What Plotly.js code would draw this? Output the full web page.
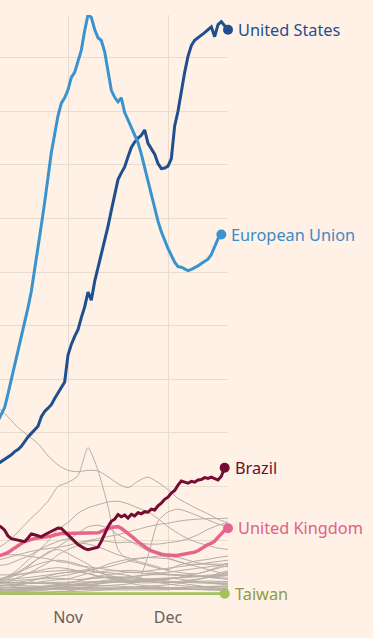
<!DOCTYPE html>
<html><head><meta charset="utf-8">
<script src="https://cdn.plot.ly/plotly-3.0.1.min.js"></script>
<style>html,body{margin:0;padding:0;background:#fff1e5;}#chart{width:373px;height:638px;}</style>
</head><body><div id="chart"></div>
<script>
// 7-day average of new cases, thousands
const dailyStart = '2020-10-11';   // daily series start
const grayStart = '2020-10-11';    // gray series: every 3 days
const grayStep = 3;
const tickVals = ['2020-11-01', '2020-12-01'];
const tickText = ['Nov', 'Dec'];

const usValues = [48.5,49.3,50.0,50.7,51.8,53.0,53.8,55.0,57.0,58.5,
59.8,61.0,62.5,66.0,68.0,69.2,70.5,72.8,74.8,77.0,
79.0,89.0,93.0,96.0,98.5,103,107,112.5,109.5,116.5,
121.5,126.5,131.5,137,143,149,154.5,157,159.2,163,
166.5,168.5,170,171,173,168,166,164,160.5,158.6,
158.8,159.5,162.3,174.5,180,187.5,194.5,200.5,204.5,206.5,
207.6,208.4,209.3,210.5,211.5,207.8,212.3,213.4,212,210.4];

const euValues = [64.5,67,69.5,74.5,79.8,85,90,95,100.5,106.7,
112.8,120.6,129,137.5,146,156,164.6,171.4,178.3,183,
185,188,192.6,194.5,198.5,202.8,210,216,215,210.5,
207.4,206.4,202.2,195.5,187.8,185.2,183.5,185,179.5,176.8,
174,171.4,168.3,164,159,154,148.5,143.5,139,135,
131.5,128.8,126.2,123.7,122,121.8,121.2,120.5,121,121.6,
122.3,123.2,124,124.8,126.5,129.5,132.4,134];

const brazilValues = [25.5,24.8,23.7,21.5,20.5,20.2,19.9,19.6,19.4,20.8,
22.3,22.0,21.5,21.2,22.0,22.7,23.3,24.0,24.5,24.3,
23.0,22.0,20.8,19.5,18.3,17.5,16.8,16.4,16.7,17.0,
17.3,19.5,22.5,25.0,27.0,27.8,29.5,28.7,29.3,28.2,
29.6,29.0,30.2,29.8,30.6,30.4,31.5,31.2,32.8,33.8,
35.2,36.0,37.5,38.5,40.5,42.0,41.6,41.2,41.9,41.6,
42.4,42.6,43.3,43.0,43.5,42.8,42.4,43.8,47.0];

const ukValues = [14.0,14.3,14.8,15.4,16.2,17.2,18.0,18.8,19.5,19.8,
20.3,20.6,20.8,20.9,21.1,21.3,21.5,21.9,22.3,22.4,
22.4,22.4,22.5,22.6,22.7,22.7,22.5,22.4,22.5,22.6,
22.7,23.2,23.8,24.3,24.7,24.9,25.0,24.4,23.5,22.5,
21.6,20.5,19.3,18.3,17.5,16.7,16.0,15.5,15.0,14.7,
14.5,14.3,14.2,14.2,14.3,14.5,14.7,14.9,15.1,15.5,
16.0,16.8,17.6,18.3,18.8,19.6,21.0,22.5,23.6,24.4];

const taiwanValues = [0.002,0.003,0.002,0.003,0.004,0.003,0.003,0.004,0.003,0.003,
0.004,0.004,0.003,0.003,0.004,0.005,0.005,0.004,0.004,0.005,
0.005,0.005,0.004,0.004,0.004,0.004,0.003,0.003,0.003,0.003,
0.004,0.005,0.005,0.004,0.004,0.004,0.004,0.004,0.004,0.003,
0.003,0.004,0.004,0.004,0.004,0.003,0.003,0.004,0.004,0.004,
0.004,0.004,0.003,0.004,0.004,0.005,0.005,0.005,0.005,0.006,
0.006,0.006,0.005,0.005,0.005,0.006,0.006,0.006,0.007];

const grayIndia = [69.5,66,62,59,56,51.5,48,46,45.5,46,45.8,43.6,41,39.5,42,43.5,41.5,38.8,35.5,33.5,31.5,29.8,27.8,26.5];
const grayFrance = [17,19.5,23,27,30.5,34.5,40,41.5,44,54.5,46,32.5,16.5,12.5,11.5,10.5,9.5,9,10.5,11.5,12.3,12.8,13.5,14];
const grayItaly = [5,6.5,9,12.5,16,19.5,24,26.5,30,32,33.2,34.2,34.5,33.5,32,30.5,28,25,22.5,20.5,19,18,17,16.5];
const grayRussia = [12.5,13.5,14.5,15.5,16.3,16.8,17.3,18,19,19.8,20.5,21.3,22,23,24,25,25.8,26.3,27,27.5,27.8,28,28,28.2];
const grayGermany = [3.5,4.5,6,7.5,9.5,11.5,14.5,16.5,18,19.5,19.8,19.5,19,19.2,18.8,18.5,18.5,19,19.5,20.5,22,24,25.5,26.5];
const grayPoland = [4,5.5,7.5,10,13,15,17.5,20,22.5,25,25.5,24.5,22,20,18,16,15,13.5,12,11,11,11,11,11];
const graySpain = [10.5,11,12.5,14,16,18,19.5,20.5,19,18.5,17.5,16,14.5,13.5,12,11,10,8.5,8,7.5,7.5,8.5,9.5,10.5];
const grayTurkey = [1.6,1.7,1.8,1.9,2,2.1,2.2,2.3,2.4,2.6,2.8,3,3.3,3.6,4.5,14,27,30.5,31.5,30.5,29,27.5,26,25];
const grayArgentina = [14,14.5,14.5,14,13.5,13,12,11.5,10.5,10,9.5,9,8.5,8,7.8,7.5,7.3,7,6.8,6.7,6.5,6.3,6.5,6.8];
const grayColombia = [7,7,7.2,7.5,8,8.3,8.5,8.8,8.5,8.5,8,7.8,7.5,8,8,8.5,9,9.5,10,10.5,11,11.5,12,12.5];
const grayMexico = [4.5,4.7,5,5.2,5.5,5.6,5.7,5.5,5.3,5.5,5.8,6,6,6.2,6.5,7,7.5,8,8.5,9,9.5,10,10.5,11];
const grayUkraine = [5,5.3,5.7,6,6.5,7,7.5,8,8.5,9,9.5,10,11,12,13,13.5,14,14,13.5,12.5,11.5,11,10.5,10];
const grayIran = [4,4,4.3,4.8,5.5,6,6.5,7,7.8,8.5,9.5,11,12,12.8,13.2,13.5,13.3,13,12,11,10,9,8,7.5];
const grayBelgium = [4.5,6,8,10.5,13,15.5,16.5,15,13,11,8.5,6.5,5,4,3.3,2.9,2.6,2.3,2.2,2.1,2.2,2.4,2.5,2.6];
const grayNetherlands = [5.5,6.3,7,7.8,8.5,9.3,9.7,9.3,8.5,7.5,6.5,5.8,5.3,5,5,5,5,5.3,6,7,7.5,8.5,10,11.5];
const grayCzechia = [5,6.5,8,9.5,11,12,12.5,12,11,9.5,8,7,6,5,4.5,4.5,4.2,4,4.5,5,5.5,6,7,8];
const graySwitzerland = [1.8,2.3,3,4,5.5,6.5,7.5,8,8,7.5,6.5,6,5.5,5,4.8,4.6,4.4,4.4,4.4,4.5,4.6,4.7,4.6,4.5];
const grayIndonesia = [4.1,4.2,4.2,4.1,4,3.9,3.8,3.6,3.4,3.5,3.8,4.3,4.4,4.5,4.6,4.8,5.2,5.6,5.9,6.1,6.3,6.4,6.6,6.7];
const graySouthAfrica = [1.5,1.6,1.7,1.8,1.8,1.9,1.9,1.9,1.9,1.9,2,2.1,2.2,2.4,2.6,2.8,3,3.3,3.7,4.3,5.2,6.3,7.5,8.6];
const grayCanada = [2.2,2.3,2.4,2.5,2.6,2.7,2.8,3,3.5,4,4.3,4.6,4.9,5,5.1,5.3,5.5,5.7,6,6.3,6.5,6.6,6.7,6.8];
const grayRomania = [2.9,3.2,3.5,3.8,4.3,4.8,5.2,5.5,6.5,7.5,8,8.5,8.5,8.7,8.5,8.2,7.8,7.3,7,6.8,6.5,6.2,6,5.8];
const grayPortugal = [1.3,1.6,1.9,2.2,2.6,3,3.4,4,4.6,5.5,6,6.3,6.3,6.1,5.7,5.4,5,4.6,4.4,4.2,4,3.9,3.8,3.7];
const grayAustria = [0.9,1.1,1.3,1.6,2.1,2.5,3,3.8,4.8,5.7,6.5,7.2,7.3,6.8,6,5.2,4.2,3.6,3.1,2.8,2.7,2.6,2.6,2.6];
const graySweden = [0.6,0.7,0.8,0.9,1.1,1.4,2,2.8,3.4,4,4.4,4.5,4.6,4.8,5,5.3,5.5,5.7,6,6.3,6.6,6.9,7.1,7.3];
const grayHungary = [0.9,1,1.1,1.2,1.4,1.7,2.2,2.7,3,3.3,3.6,4,4.4,4.8,5.2,5.5,5.7,5.8,5.5,5,4.5,4,3.6,3.3];
const grayMorocco = [3,3.3,3.5,3.8,4,4.1,4.2,4.3,4.4,4.4,4.4,4.4,4.3,4.2,4.1,4,4.1,4.2,4.3,4.3,4.3,4.2,4.1,4];
const grayIraq = [3.9,3.9,3.9,3.8,3.8,3.7,3.5,3.3,3.2,3.1,3,2.9,2.8,2.6,2.4,2.3,2.2,2.1,1.9,1.8,1.6,1.5,1.4,1.3];
const grayJapan = [0.55,0.55,0.55,0.58,0.6,0.65,0.7,0.75,0.85,1,1.2,1.5,1.8,2,2.1,2.2,2.2,2.2,2.3,2.4,2.6,2.7,2.8,2.9];
const grayChile = [1.5,1.5,1.5,1.5,1.6,1.6,1.5,1.5,1.5,1.5,1.4,1.4,1.4,1.4,1.4,1.4,1.4,1.5,1.6,1.7,1.8,1.9,2,2.1];
const grayPhilippines = [2.6,2.4,2.3,2.2,2,1.9,1.8,1.8,1.8,1.8,1.9,1.9,1.9,1.9,1.9,1.9,1.8,1.8,1.7,1.6,1.6,1.5,1.4,1.4];
const grayPeru = [3.2,3.1,3,2.9,2.8,2.6,2.5,2.4,2.4,2.3,2.2,2.1,2,2,1.9,1.9,1.9,1.8,1.7,1.6,1.5,1.4,1.4,1.5];
const grayJordan = [1.1,1.4,1.7,2,2.3,2.7,3,3.3,3.8,4.2,4.6,5.1,5.4,5.6,5.5,5.3,5,4.6,4.1,3.5,3,2.5,2.1,1.8];
const graySerbia = [0.15,0.17,0.2,0.25,0.35,0.5,0.75,1,1.6,2.5,3.6,4.6,5.6,6.2,6.7,7,7.1,7.1,7,6.8,6.5,6.1,5.7,5.3];

const grayList = [grayIndia,grayFrance,grayItaly,grayRussia,grayGermany,grayPoland,graySpain,grayTurkey,
  grayArgentina,grayColombia,grayMexico,grayUkraine,grayIran,grayBelgium,grayNetherlands,grayCzechia,
  graySwitzerland,grayIndonesia,graySouthAfrica,grayCanada,grayRomania,grayPortugal,grayAustria,graySweden,
  grayHungary,grayMorocco,grayIraq,grayJapan,grayChile,grayPhilippines,grayPeru,grayJordan,graySerbia];

function makeDates(start, n, step) {
  const out = [];
  const t0 = Date.parse(start + 'T00:00:00Z');
  for (let i = 0; i < n; i++) out.push(new Date(t0 + i * step * 86400000).toISOString().slice(0, 10));
  return out;
}

const FONT = '"Noto Sans", "Open Sans", sans-serif';
const traces = [];
grayList.forEach(v => {
  traces.push({x: makeDates(grayStart, v.length, grayStep), y: v, type: 'scatter', mode: 'lines',
    line: {color: '#b7aea5', width: 1, shape: 'spline', smoothing: 0.6}, hoverinfo: 'skip', showlegend: false});
});

const highlights = [
  {name: 'Taiwan', v: taiwanValues, color: '#a3c25f', text: '#8d9c45', w: 3},
  {name: 'United Kingdom', v: ukValues, color: '#e5648e', text: '#e0608a', w: 3.5},
  {name: 'Brazil', v: brazilValues, color: '#760b33', text: '#6b0d2e', w: 3},
  {name: 'United States', v: usValues, color: '#1f4f8f', text: '#1f4f8f', w: 3},
  {name: 'European Union', v: euValues, color: '#3a93cf', text: '#3a8cc6', w: 3}
];
const annotations = [];
highlights.forEach(h => {
  const xs = makeDates(dailyStart, h.v.length, 1);
  traces.push({x: xs, y: h.v, type: 'scatter', mode: 'lines', line: {color: h.color, width: h.w},
    hoverinfo: 'skip', showlegend: false});
  const lx = xs[xs.length - 1], ly = h.v[h.v.length - 1];
  traces.push({x: [lx], y: [ly], type: 'scatter', mode: 'markers', cliponaxis: false,
    marker: {color: h.color, size: 10}, hoverinfo: 'skip', showlegend: false});
  annotations.push({x: lx, y: ly, xref: 'x', yref: 'y', text: h.name, showarrow: false,
    xanchor: 'left', yanchor: 'middle', xshift: 8, font: {family: FONT, size: 16.3, color: h.text}});
});

const layout = {
  width: 373, height: 638,
  margin: {l: 0, r: 145, t: 15, b: 43, pad: 0},
  paper_bgcolor: '#fff1e5', plot_bgcolor: '#fff1e5',
  showlegend: false,
  xaxis: {type: 'date', range: ['2020-10-11 14:24', '2020-12-19 00:00'], tickvals: tickVals, ticktext: tickText,
    showgrid: true, gridcolor: '#e8dbcf', gridwidth: 1, zeroline: false, showline: false,
    ticks: 'outside', ticklen: 8, tickcolor: 'rgba(0,0,0,0)',
    tickfont: {family: FONT, size: 16, color: '#66605c'}, fixedrange: true},
  yaxis: {range: [-0.5, 215.9], dtick: 20, tick0: 0, showticklabels: false, showgrid: true,
    gridcolor: '#e8dbcf', gridwidth: 1, zeroline: false, showline: false, fixedrange: true},
  annotations: annotations,
  font: {family: FONT}
};
Plotly.newPlot('chart', traces, layout, {displayModeBar: false, staticPlot: true});
</script></body></html>
